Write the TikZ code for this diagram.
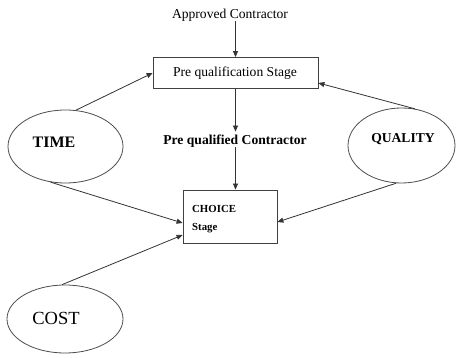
\documentclass[tikz,border=0pt]{standalone}
\usepackage{fontspec}
\setmainfont{Liberation Serif}
\usetikzlibrary{shapes.geometric,arrows.meta}
\begin{document}
\begin{tikzpicture}[x=1pt,y=-1pt,
  line/.style={draw=black!80,line width=0.8pt},
  arr/.style={line,-{Triangle[length=6pt,width=5pt]}},
  boxnode/.style={draw=black!75,line width=0.8pt,rectangle,inner sep=0pt},
  oval/.style={draw=black!70,line width=0.8pt,ellipse,inner sep=0pt},
  txt/.style={inner sep=0pt,font=\fontsize{13.6}{16}\selectfont},
  btxt/.style={inner sep=0pt,font=\fontsize{13.6}{16}\selectfont\bfseries},
  stxt/.style={inner sep=0pt,anchor=west,font=\fontsize{10.8}{13}\selectfont\bfseries}]
\useasboundingbox (0,0) rectangle (456,358);
% nodes
\node[txt] (appr) at (230,15) {Approved Contractor};
\node[boxnode,minimum width=165pt,minimum height=31pt] (pq) at (235.5,73) {};
\node[txt] (pqt) at (235,73) {Pre qualification Stage};
\node[btxt] (pqc) at (235,141) {Pre qualified Contractor};
\node[boxnode,minimum width=94pt,minimum height=53pt] (choice) at (230,216.5) {};
\node[stxt] (ch1) at (192,209) {CHOICE};
\node[stxt] (ch2) at (192,228) {Stage};
\node[oval,minimum width=115pt,minimum height=73pt] (time) at (65.5,146.5) {};
\node[inner sep=0pt,font=\fontsize{16}{18}\selectfont\bfseries] (timet) at (54,142) {TIME};
\node[oval,minimum width=107pt,minimum height=75pt] (quality) at (401.5,145.5) {};
\node[btxt] (qualt) at (403,139) {QUALITY};
\node[oval,minimum width=116pt,minimum height=68pt] (cost) at (65,319) {};
\node[inner sep=0pt,font=\fontsize{18.5}{20}\selectfont] (costt) at (56,318) {COST};
% connectors
\draw[arr] (appr.south -| pq.north) -- (pq.north);
\draw[arr,shorten >=3pt] (pq.south) -- (pqc.north -| pq.south);
\draw[arr] (pqc.south -| pq.south) -- (pq.south |- choice.north);
\draw[arr] (time.74) -- (pq.west);
\draw[arr] (time.247) -- ([yshift=-6.5pt]choice.west);
\draw[arr] (cost.95) -- ([yshift=-18.5pt]choice.west);
\draw[arr] (quality.70) -- ([yshift=-10pt]pq.east);
\draw[arr] (quality.262) -- ([yshift=-5.5pt]choice.east);
\end{tikzpicture}
\end{document}
